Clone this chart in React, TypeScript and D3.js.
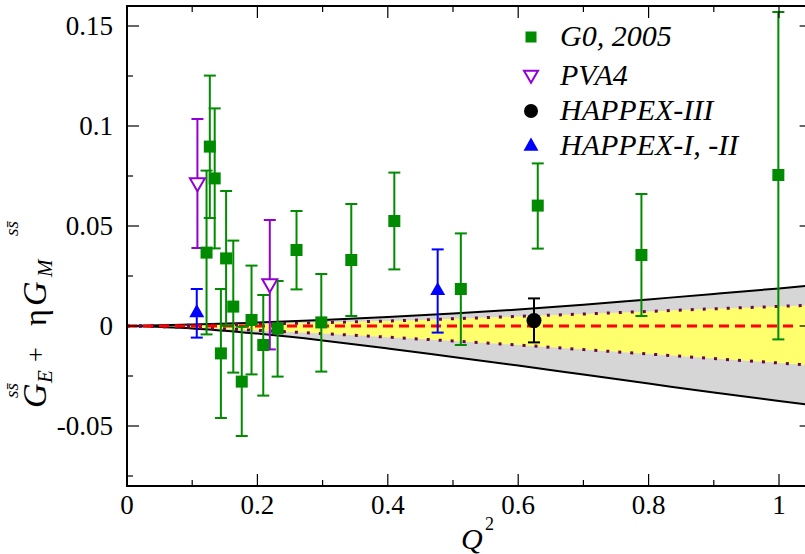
import React, { useEffect, useRef } from 'react';
import * as d3 from 'd3';

// ---------- data ----------
const g0Q = [0.122, 0.127, 0.1345, 0.144, 0.152, 0.163, 0.176, 0.191, 0.209, 0.231, 0.26, 0.298, 0.344, 0.41, 0.512, 0.63, 0.789, 0.999];
const g0Val = [0.0367, 0.0897, 0.0738, -0.0137, 0.0338, 0.0097, -0.0278, 0.003, -0.0095, -0.0012, 0.038, 0.0018, 0.033, 0.0525, 0.0185, 0.0602, 0.0355, 0.0755];
const g0Hi = [0.0777, 0.1252, 0.1088, 0.0185, 0.0675, 0.0427, -0.0004, 0.0302, 0.0155, 0.0225, 0.0575, 0.026, 0.061, 0.0767, 0.0463, 0.0813, 0.066, 0.157];
const g0Lo = [-0.0042, 0.054, 0.0388, -0.046, 0.0001, -0.0233, -0.055, -0.0242, -0.0348, -0.0253, 0.0183, -0.0228, 0.005, 0.0283, -0.0095, 0.0387, 0.005, -0.0067];

const pvaQ = [0.108, 0.219];
const pvaVal = [0.071, 0.0205];
const pvaHi = [0.1035, 0.053];
const pvaLo = [0.039, -0.0117];

const h3Q = [0.6242];
const h3Val = [0.0027];
const h3Hi = [0.0138];
const h3Lo = [-0.0082];

const h12Q = [0.107, 0.4765];
const h12Val = [0.0072, 0.0183];
const h12Hi = [0.0185, 0.0383];
const h12Lo = [-0.0058, -0.0033];

const bandQ = [0, 0.1, 0.2, 0.3, 0.4, 0.5, 0.6, 0.7, 0.8, 0.9, 1.0, 1.05];
const outerHi = [0, 0.0007, 0.0017, 0.003, 0.0045, 0.0062, 0.0082, 0.0106, 0.0133, 0.016, 0.0188, 0.0203];
const outerLo = [0, -0.0012, -0.0038, -0.0072, -0.0112, -0.0155, -0.0198, -0.0243, -0.0288, -0.0333, -0.0375, -0.0395];
const innerHi = [0, 0.0004, 0.001, 0.0017, 0.0025, 0.0036, 0.0048, 0.006, 0.0073, 0.0086, 0.0098, 0.0104];
const innerLo = [0, -0.0008, -0.0022, -0.0038, -0.0056, -0.0075, -0.0095, -0.0118, -0.014, -0.0163, -0.0185, -0.0197];

const zeroLineQ = [0, 1.03];

const xMajor = [0, 0.2, 0.4, 0.6, 0.8, 1.0];
const xMajorLabels = ['0', '0.2', '0.4', '0.6', '0.8', '1'];
const xMinor = [0.1, 0.3, 0.5, 0.7, 0.9];
const yMajor = [-0.05, 0, 0.05, 0.1, 0.15];
const yMajorLabels = ['-0.05', '0', '0.05', '0.1', '0.15'];
const yMinor = [-0.075, -0.025, 0.025, 0.075, 0.125];

const legendLabels = ['G0, 2005', 'PVA4', 'HAPPEX-III', 'HAPPEX-I, -II'];

// ---------- styles ----------
const GREEN = '#008b00';
const VIOLET = '#9400d3';
const BLUE = '#0000ff';
const MAROON = '#670748';
const FONT = "'Liberation Serif', 'Times New Roman', Tinos, serif";

const L = 127, R = 811.6, T = 6, B = 486;

export default function App() {
  const svgRef = useRef<SVGSVGElement | null>(null);
  const x = d3.scaleLinear().domain([0, 1.05]).range([L, R]);
  const y = d3.scaleLinear().domain([-0.08, 0.16]).range([B, T]);

  useEffect(() => {
    if (svgRef.current) {
      d3.select(svgRef.current).selectAll('text').style('font-family', FONT).attr('font-family', FONT);
    }
  }, []);

  const idx = bandQ.map((_, i) => i);
  const outerArea = d3.area<number>().x(i => x(bandQ[i])).y0(i => y(outerLo[i])).y1(i => y(outerHi[i])).curve(d3.curveMonotoneX);
  const innerArea = d3.area<number>().x(i => x(bandQ[i])).y0(i => y(innerLo[i])).y1(i => y(innerHi[i])).curve(d3.curveMonotoneX);
  const lineOf = (arr: number[]) => d3.line<number>().x(i => x(bandQ[i])).y(i => y(arr[i])).curve(d3.curveMonotoneX)(idx) || '';

  const errBars = (qs: number[], lo: number[], hi: number[], color: string, cap: number) =>
    qs.map((q, i) => (
      <g key={'e' + color + i} stroke={color} strokeWidth={2}>
        <line x1={x(q)} x2={x(q)} y1={y(lo[i])} y2={y(hi[i])} />
        <line x1={x(q) - cap / 2} x2={x(q) + cap / 2} y1={y(lo[i])} y2={y(lo[i])} />
        <line x1={x(q) - cap / 2} x2={x(q) + cap / 2} y1={y(hi[i])} y2={y(hi[i])} />
      </g>
    ));

  const square = (cx: number, cy: number, s: number, key: string) => (
    <rect key={key} x={cx - s / 2} y={cy - s / 2} width={s} height={s} fill={GREEN} />
  );
  const triDown = (cx: number, cy: number, s: number, key: string) => (
    <path key={key} d={`M${cx - s / 2},${cy - s * 0.38} L${cx + s / 2},${cy - s * 0.38} L${cx},${cy + s * 0.48} Z`} fill="white" stroke={VIOLET} strokeWidth={2} />
  );
  const triUp = (cx: number, cy: number, s: number, key: string) => (
    <path key={key} d={`M${cx - s / 2},${cy + s * 0.38} L${cx + s / 2},${cy + s * 0.38} L${cx},${cy - s * 0.5} Z`} fill={BLUE} />
  );
  const circ = (cx: number, cy: number, r: number, key: string) => (
    <circle key={key} cx={cx} cy={cy} r={r} fill="black" />
  );

  const legendY = [37, 76, 111, 145];
  const legendBase = [46, 85, 120, 155];

  // y-axis title pieces: [text, start (page y), baseline (page x), size, italic]
  const yTitle: [string, number, number, number, boolean][] = [
    ['G', 408, 46, 34, true],
    ['E', 383, 52, 21, true],
    ['ss\u0304', 398, 18, 19, true],
    ['+', 362, 44, 26, false],
    ['\u03b7', 326, 46, 32, false],
    ['G', 306, 46, 34, true],
    ['M', 277, 52, 21, true],
    ['ss\u0304', 236, 18, 19, true],
  ];

  const ts = { fontFamily: FONT } as React.CSSProperties;

  return (
    <div style={{ position: 'absolute', left: 0, top: 0 }}>
      <svg ref={svgRef} width={805} height={554} style={{ display: 'block', background: 'white' }}>
        <defs>
          <clipPath id="plotclip">
            <rect x={L} y={T} width={R - L} height={B - T} />
          </clipPath>
        </defs>

        <g clipPath="url(#plotclip)">
          <path d={outerArea(idx) || ''} fill="#d6d6d6" />
          <path d={innerArea(idx) || ''} fill="#ffff6e" />
          <path d={lineOf(outerHi)} fill="none" stroke="black" strokeWidth={2} />
          <path d={lineOf(outerLo)} fill="none" stroke="black" strokeWidth={2} />
          <path d={lineOf(innerHi)} fill="none" stroke={MAROON} strokeWidth={3} strokeDasharray="3,9" />
          <path d={lineOf(innerLo)} fill="none" stroke={MAROON} strokeWidth={3} strokeDasharray="3,9" />
          <line x1={x(zeroLineQ[0])} x2={x(zeroLineQ[1])} y1={y(0)} y2={y(0)} stroke="#ff0000" strokeWidth={3} strokeDasharray="10,6" />

          {errBars(g0Q, g0Lo, g0Hi, GREEN, 12)}
          {errBars(pvaQ, pvaLo, pvaHi, VIOLET, 12)}
          {errBars(h3Q, h3Lo, h3Hi, 'black', 12)}
          {errBars(h12Q, h12Lo, h12Hi, BLUE, 12)}

          {g0Q.map((q, i) => square(x(q), y(g0Val[i]), 12, 'g' + i))}
          {pvaQ.map((q, i) => triDown(x(q), y(pvaVal[i]), 15, 'p' + i))}
          {h3Q.map((q, i) => circ(x(q), y(h3Val[i]), 7.5, 'c' + i))}
          {h12Q.map((q, i) => triUp(x(q), y(h12Val[i]), 15, 't' + i))}
        </g>

        {/* frame */}
        <rect x={L} y={T} width={R - L} height={B - T} fill="none" stroke="black" strokeWidth={2} />

        {/* ticks */}
        <g stroke="black" strokeWidth={1.2}>
          {xMajor.map(v => (
            <g key={'xm' + v}>
              <line x1={x(v)} x2={x(v)} y1={B} y2={B - 12} />
              <line x1={x(v)} x2={x(v)} y1={T} y2={T + 12} />
            </g>
          ))}
          {xMinor.map(v => (
            <g key={'xn' + v}>
              <line x1={x(v)} x2={x(v)} y1={B} y2={B - 6} />
              <line x1={x(v)} x2={x(v)} y1={T} y2={T + 6} />
            </g>
          ))}
          {yMajor.map(v => (
            <g key={'ym' + v}>
              <line x1={L} x2={L + 12} y1={y(v)} y2={y(v)} />
              <line x1={R} x2={R - 12} y1={y(v)} y2={y(v)} />
            </g>
          ))}
          {yMinor.map(v => (
            <g key={'yn' + v}>
              <line x1={L} x2={L + 6} y1={y(v)} y2={y(v)} />
              <line x1={R} x2={R - 6} y1={y(v)} y2={y(v)} />
            </g>
          ))}
        </g>

        {/* tick labels */}
        {xMajor.map((v, i) => (
          <text key={'xl' + v} x={x(v)} y={514} textAnchor="middle" fontSize={27} style={ts}>{xMajorLabels[i]}</text>
        ))}
        {yMajor.map((v, i) => (
          <text key={'yl' + v} x={113} y={y(v) + 9} textAnchor="end" fontSize={27} style={ts}>{yMajorLabels[i]}</text>
        ))}

        {/* axis titles */}
        <text x={461} y={549} fontSize={30} fontStyle="italic" style={ts}>Q</text>
        <text x={485} y={530} fontSize={18} style={ts}>2</text>
        <g transform="rotate(-90)">
          {yTitle.map(([t, start, base, size, it], i) => (
            <text key={'yt' + i} x={-start} y={base} fontSize={size} fontStyle={it ? 'italic' : 'normal'} style={ts}>{t}</text>
          ))}
        </g>

        {/* legend */}
        {square(531, legendY[0], 11, 'lg0')}
        {triDown(531, legendY[1], 14, 'lg1')}
        {circ(531, legendY[2], 7, 'lg2')}
        {triUp(531, legendY[3], 15, 'lg3')}
        {legendLabels.map((t, i) => (
          <text key={'lt' + i} x={560} y={legendBase[i]} fontSize={30} fontStyle="italic" style={ts}>{t}</text>
        ))}
      </svg>
    </div>
  );
}
